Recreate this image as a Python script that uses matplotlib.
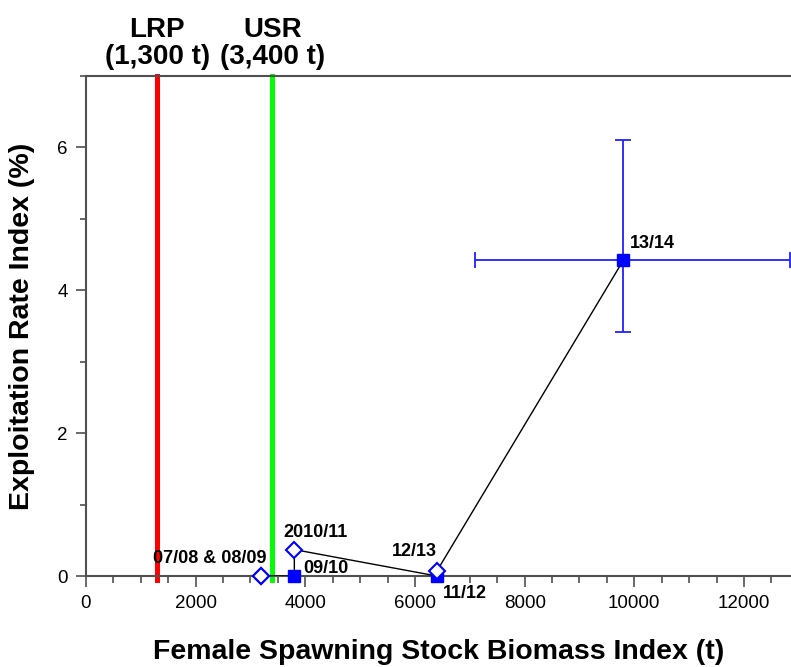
import matplotlib.pyplot as plt
from matplotlib.ticker import MultipleLocator

plt.rcParams['font.family'] = ['Liberation Sans', 'DejaVu Sans']

# Data
seasons = ["07/08", "08/09", "09/10", "2010/11", "11/12", "12/13", "13/14"]
biomass = [3200, 3200, 3800, 3800, 6400, 6400, 9800]
exploitation = [0.0, 0.0, 0.0, 0.37, 0.0, 0.07, 4.42]
filled = [False, False, True, False, True, False, True]

# 13/14 confidence limits
biomass_ci = [7100, 12840]
exploitation_ci = [3.41, 6.11]

LRP = 1300
USR = 3400

# Point labels: (text, x, y, ha)
point_labels = [
    ("07/08 & 08/09", 3300, 0.18, "right"),
    ("09/10", 3960, 0.04, "left"),
    ("2010/11", 4180, 0.55, "center"),
    ("12/13", 5580, 0.28, "left"),
    ("11/12", 6510, -0.31, "left"),
    ("13/14", 9920, 4.59, "left"),
]

fig = plt.figure(figsize=(7.91, 6.67), dpi=100)
ax = fig.add_axes([0.1087, 0.1364, 0.8913, 0.7496])

# Reference points
ax.axvline(LRP, ymin=-0.008, ymax=1, color="#FF0000", lw=3.6, zorder=2, clip_on=False)
ax.axvline(USR, ymin=-0.008, ymax=1, color="#00FF00", lw=3.6, zorder=2, clip_on=False)
ax.text(LRP, 7.08, "LRP\n(1,300 t)", ha="center", va="bottom", fontsize=20,
        fontweight="bold", linespacing=1.05)
ax.text(USR, 7.08, "USR\n(3,400 t)", ha="center", va="bottom", fontsize=20,
        fontweight="bold", linespacing=1.05)

# Trajectory
ax.plot(biomass, exploitation, color="black", lw=1, zorder=3)

# Error bars on last point
last_x, last_y = biomass[-1], exploitation[-1]
ax.errorbar([last_x], [last_y],
            xerr=[[last_x - biomass_ci[0]], [biomass_ci[1] - last_x]],
            yerr=[[last_y - exploitation_ci[0]], [exploitation_ci[1] - last_y]],
            fmt="none", ecolor="#2020FF", elinewidth=1.3, capsize=5.5, capthick=1.3,
            zorder=3, clip_on=False)

for x, y, f in zip(biomass, exploitation, filled):
    if f:
        ax.plot(x, y, marker="s", ms=8.5, color="#0000FF", mec="#0000FF",
                zorder=5, clip_on=False)
    else:
        ax.plot(x, y, marker="D", ms=8, mfc="white", mec="#0000FF", mew=1.5,
                zorder=6, clip_on=False)

for txt, x, y, ha in point_labels:
    ax.text(x, y, txt, ha=ha, va="baseline", fontsize=13, fontweight="bold", zorder=7)

ax.set_xlim(0, 12858)
ax.set_ylim(0, 7)

ax.xaxis.set_major_locator(MultipleLocator(2000))
ax.xaxis.set_minor_locator(MultipleLocator(500))
ax.yaxis.set_major_locator(MultipleLocator(2))
ax.yaxis.set_minor_locator(MultipleLocator(1))

spine_col = "#505050"
for side in ["left", "top", "bottom"]:
    ax.spines[side].set_color(spine_col)
    ax.spines[side].set_linewidth(1.5)
ax.spines["right"].set_visible(False)

ax.tick_params(axis="both", which="major", direction="out", length=7, width=1.2,
               color=spine_col, labelsize=13.5, pad=6)
ax.tick_params(axis="both", which="minor", direction="out", length=4, width=1.2,
               color=spine_col)
ax.tick_params(axis="x", which="major", length=8)
ax.tick_params(axis="x", which="minor", length=5)

ax.set_xlabel("Female Spawning Stock Biomass Index (t)", fontsize=20.5,
              fontweight="bold", labelpad=19)
ax.set_ylabel("Exploitation Rate Index (%)", fontsize=20.5, fontweight="bold",
              labelpad=16)

fig.savefig("out.png", dpi=100)
plt.close(fig)
